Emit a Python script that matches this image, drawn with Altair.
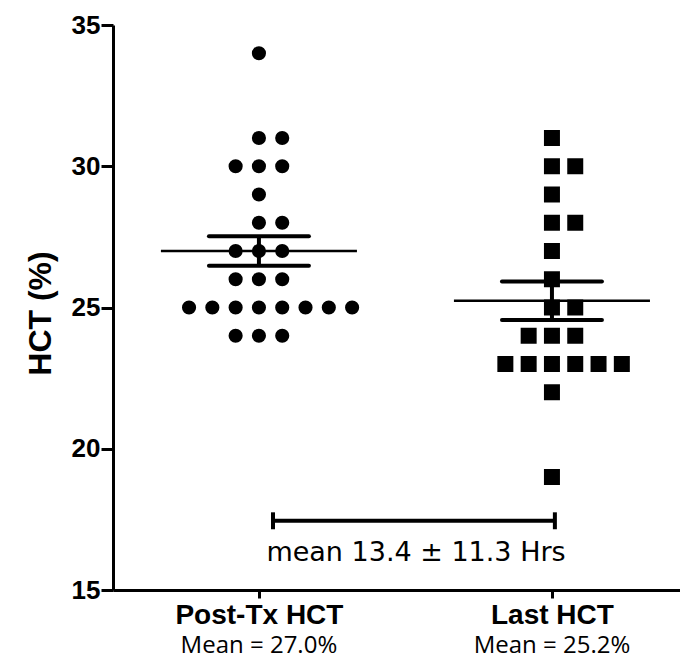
import altair as alt
import pandas as pd

# ---- data ----
groups = ["Post-Tx HCT", "Last HCT"]
group_pos = [1, 2]
mean_labels = ["Mean = 27.0%", "Mean = 25.2%"]
post_tx = [34, 31, 31, 30, 30, 30, 29, 28, 28, 27, 27, 27, 26, 26, 26,
           25, 25, 25, 25, 25, 25, 25, 25, 24, 24, 24]
last_hct = [31, 30, 30, 29, 28, 28, 27, 26, 25, 25, 24, 24, 24,
            23, 23, 23, 23, 23, 23, 22, 19]
interval_text = "mean 13.4 ± 11.3 Hrs"
y_ticks = [15, 20, 25, 30, 35]

rows = []
for g, p, vals in zip(groups, group_pos, [post_tx, last_hct]):
    for v in vals:
        rows.append({"group": g, "pos": p, "value": v})
df = pd.DataFrame(rows)
lab_df = pd.DataFrame({"group": groups, "pos": group_pos, "label": mean_labels})

# annotation geometry (layout, not data)
bracket_df = pd.DataFrame({"x1": [1.048], "x2": [2.010], "y": [17.45]})
note_df = pd.DataFrame({"x": [1.536], "y": [16.31], "t": [interval_text]})

XS = alt.Scale(domain=[0.502, 2.437], nice=False, zero=False)
YS = alt.Scale(domain=[15, 35], nice=False, zero=False)

label_expr = " : ".join(
    [f"datum.value == {p} ? '{g}'" for p, g in zip(group_pos[:-1], groups[:-1])]
    + [f"'{groups[-1]}'"]
)

x_axis = alt.Axis(values=group_pos, labelExpr=label_expr, grid=False, title=None,
                  domainColor="black", domainWidth=3, tickColor="black", tickWidth=3,
                  tickSize=8, labelFont="Liberation Sans", labelFontWeight="bold",
                  labelFontSize=28, labelColor="black", labelPadding=3,
                  labelFlush=False, labelOverlap=False)
y_axis = alt.Axis(values=y_ticks, grid=False, title="HCT (%)",
                  domainColor="black", domainWidth=3, tickColor="black", tickWidth=3,
                  tickSize=12, labelFont="Liberation Sans", labelFontWeight="bold",
                  labelFontSize=26, labelColor="black", labelPadding=1,
                  titleFont="Liberation Sans", titleFontWeight="bold", titleFontSize=32,
                  titleColor="black", titleAngle=-90, titleX=-73, titleY=288,
                  titleAlign="center", titleBaseline="middle")

base = alt.Chart(df)

points = base.transform_window(
    rank="row_number()", groupby=["group", "value"]
).transform_joinaggregate(
    n="count()", groupby=["group", "value"]
).transform_calculate(
    xpos="datum.pos + (datum.rank - ceil(datum.n / 2)) * 0.0795"
).mark_point(filled=True, opacity=1, color="black").encode(
    x=alt.X("xpos:Q", scale=XS, axis=x_axis),
    y=alt.Y("value:Q", scale=YS, axis=y_axis),
    shape=alt.Shape("group:N", scale=alt.Scale(domain=groups, range=["circle", "square"]), legend=None),
    size=alt.Size("group:N", scale=alt.Scale(domain=groups, range=[200, 256]), legend=None),
)

stats = base.transform_aggregate(
    m="mean(value)", se="stderr(value)", groupby=["group", "pos"]
).transform_calculate(
    lo="datum.m - datum.se", hi="datum.m + datum.se",
    a="datum.pos - 0.3345", b="datum.pos + 0.3345",
    sa="datum.pos - 0.1706", sb="datum.pos + 0.1706",
)

mean_line = stats.mark_rule(color="black", strokeWidth=2.5).encode(
    x=alt.X("a:Q", scale=XS), x2="b:Q", y=alt.Y("m:Q", scale=YS))
sem_hi = stats.mark_rule(color="black", strokeWidth=4, strokeCap="round").encode(
    x=alt.X("sa:Q", scale=XS), x2="sb:Q", y=alt.Y("hi:Q", scale=YS))
sem_lo = stats.mark_rule(color="black", strokeWidth=4, strokeCap="round").encode(
    x=alt.X("sa:Q", scale=XS), x2="sb:Q", y=alt.Y("lo:Q", scale=YS))
sem_v = stats.mark_rule(color="black", strokeWidth=4).encode(
    x=alt.X("pos:Q", scale=XS), y=alt.Y("lo:Q", scale=YS), y2="hi:Q")

bbase = alt.Chart(bracket_df).transform_calculate(
    c1="datum.y - 0.3", c2="datum.y + 0.3")
b_line = bbase.mark_rule(color="black", strokeWidth=4).encode(
    x=alt.X("x1:Q", scale=XS), x2="x2:Q", y=alt.Y("y:Q", scale=YS))
b_cap1 = bbase.mark_rule(color="black", strokeWidth=4).encode(
    x=alt.X("x1:Q", scale=XS), y=alt.Y("c1:Q", scale=YS), y2="c2:Q")
b_cap2 = bbase.mark_rule(color="black", strokeWidth=4).encode(
    x=alt.X("x2:Q", scale=XS), y=alt.Y("c1:Q", scale=YS), y2="c2:Q")

note = alt.Chart(note_df).mark_text(font="DejaVu Sans", fontSize=27, color="black",
                                    baseline="middle", align="center").encode(
    x=alt.X("x:Q", scale=XS), y=alt.Y("y:Q", scale=YS), text="t:N")

mean_text = alt.Chart(lab_df).mark_text(font="Open Sans", fontSize=24, color="black",
                                        baseline="middle", align="center").encode(
    x=alt.X("pos:Q", scale=XS), y=alt.value(621), text="label:N")

chart = alt.layer(points, mean_line, sem_hi, sem_lo, sem_v, b_line, b_cap1, b_cap2,
                  note, mean_text).properties(
    width=567, height=565,
    padding={"left": 105, "top": 17, "right": 0, "bottom": 72},
    autosize=alt.AutoSizeParams(type="none"),
    background="white",
).configure_view(stroke=None)

chart.save("out.html", embed_options={"renderer": "svg", "actions": False})
